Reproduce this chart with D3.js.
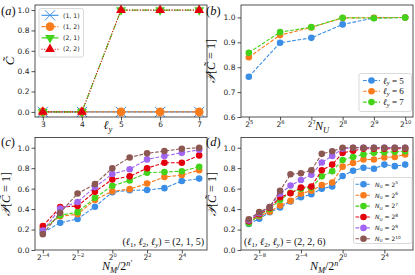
<!DOCTYPE html>
<html><head><meta charset="utf-8">
<script src="https://cdn.jsdelivr.net/npm/d3@7"></script>
<style>
html,body{margin:0;padding:0;background:#fff;}
svg{display:block;}
text{font-family:"DejaVu Sans",sans-serif;}
.math{font-family:"Liberation Serif","DejaVu Serif",serif;}
</style></head>
<body>
<svg id="fig" width="415" height="275"></svg>
<script>
// ---------- data ----------
const aX = [3, 4, 5, 6, 7];
const aSeriesNames = ["(1, 1)", "(1, 2)", "(2, 1)", "(2, 2)"];
const a11 = [0, 0, 0, 0, 0];
const a12 = [0, 0, 0, 0, 0];
const a21 = [0, 0, 1, 1, 1];
const a22 = [0, 0, 1, 1, 1];
const aYTicks = [0, 0.2, 0.4, 0.6, 0.8, 1.0];

const bExp = [5, 6, 7, 8, 9, 10];           // N_U = 2^exp
const bNames = ["5", "6", "7"];             // ℓy values
const bLy5 = [0.762, 0.898, 0.918, 0.972, 0.998, 1.0];
const bLy6 = [0.840, 0.929, 0.960, 0.998, 0.999, 1.0];
const bLy7 = [0.858, 0.941, 0.961, 0.999, 0.997, 1.0];
const bYTicks = [0.6, 0.7, 0.8, 0.9, 1.0];

const cExp = [-4, -3, -2, -1, 0, 1, 2, 3, 4, 5];   // N_M/2^n' = 2^exp
const cU5  = [0.17, 0.267, 0.303, 0.423, 0.565, 0.584, 0.586, 0.605, 0.674, 0.698];
const cU6  = [0.21, 0.33, 0.35, 0.49, 0.575, 0.595, 0.65, 0.713, 0.733, 0.78];
const cU7  = [0.20, 0.34, 0.37, 0.51, 0.628, 0.68, 0.756, 0.763, 0.77, 0.814];
const cU8  = [0.235, 0.42, 0.43, 0.57, 0.69, 0.72, 0.80, 0.853, 0.853, 0.925];
const cU9  = [0.19, 0.405, 0.47, 0.615, 0.743, 0.79, 0.886, 0.92, 0.95, 0.98];
const cU10 = [0.155, 0.365, 0.552, 0.645, 0.80, 0.905, 0.945, 0.967, 0.99, 1.0];
const cTickExp = [-4, -2, 0, 2, 4];

const dExp = [-9, -8, -7, -6, -5, -4, -3, -2, -1, 0, 1, 2, 3, 4, 5, 6];
const dU5  = [0.255, 0.305, 0.37, 0.415, 0.475, 0.515, 0.545, 0.60, 0.622, 0.724, 0.775, 0.805, 0.795, 0.835, 0.82, 0.835];
const dU6  = [0.27, 0.33, 0.375, 0.435, 0.48, 0.55, 0.58, 0.635, 0.66, 0.815, 0.85, 0.885, 0.885, 0.905, 0.91, 0.935];
const dU7  = [0.26, 0.34, 0.40, 0.49, 0.56, 0.60, 0.61, 0.72, 0.77, 0.88, 0.91, 0.935, 0.95, 0.955, 0.96, 0.965];
const dU8  = [0.28, 0.35, 0.41, 0.515, 0.555, 0.61, 0.62, 0.78, 0.835, 0.95, 0.97, 0.99, 0.99, 0.99, 0.99, 0.99];
const dU9  = [0.29, 0.36, 0.42, 0.55, 0.63, 0.685, 0.735, 0.855, 0.92, 0.99, 1.0, 1.0, 1.0, 1.0, 1.0, 1.0];
const dU10 = [0.30, 0.37, 0.42, 0.58, 0.74, 0.75, 0.78, 0.94, 0.965, 1.0, 1.0, 1.0, 1.0, 1.0, 1.0, 1.0];
const dTickExp = [-8, -4, 0, 4];
const nuExp = ["5", "6", "7", "8", "9", "10"];
const cdYTicks = [0, 0.2, 0.4, 0.6, 0.8, 1.0];

// ---------- style ----------
const COL = {blue:"#3a8ee6", orange:"#f97c1c", green:"#43d31b", red:"#e3000c", purple:"#a066f2", brown:"#8c5651"};
const six = [COL.blue, COL.orange, COL.green, COL.red, COL.purple, COL.brown];
const svg = d3.select("#fig");
const FS = 7.5;

function frame(g, x, y) {
  const [x0, x1] = x.range(), [y1, y0] = y.range();
  g.append("rect").attr("x", x0).attr("y", y0).attr("width", x1 - x0).attr("height", y1 - y0)
    .attr("fill", "none").attr("stroke", "#262626").attr("stroke-width", 0.8);
}
function yAxis(g, x, y, ticks) {
  const ax = d3.axisLeft(y).tickValues(ticks).tickFormat(d3.format(".1f")).tickSize(3.5).tickPadding(2);
  const a = g.append("g").attr("transform", `translate(${x.range()[0]},0)`).call(ax);
  a.select(".domain").remove();
  a.selectAll("line").attr("stroke", "#262626").attr("stroke-width", 0.8);
  a.selectAll("text").attr("font-size", FS).attr("fill", "#262626").attr("font-family", "DejaVu Sans");
}
function xAxis(g, x, y, ticks, fmt) {
  const ax = d3.axisBottom(x).tickValues(ticks).tickSize(3.5).tickPadding(1.5);
  if (!fmt) ax.tickFormat(d3.format("d"));
  const a = g.append("g").attr("transform", `translate(0,${y.range()[0]})`).call(ax);
  a.select(".domain").remove();
  a.selectAll("line").attr("stroke", "#262626").attr("stroke-width", 0.8);
  a.selectAll("text").attr("font-size", FS).attr("fill", "#262626").attr("font-family", "DejaVu Sans");
  if (fmt) {
    a.selectAll("text").each(function(d) {
      const t = d3.select(this).text("");
      t.append("tspan").text("2");
      t.append("tspan").attr("font-size", 5.2).attr("dy", -3.2).text(fmt(d));
    });
  }
}
function series(g, x, y, xs, ys, color, dash, marker) {
  const line = d3.line().x((d, i) => x(xs[i])).y(d => y(d));
  g.append("path").datum(ys).attr("d", line).attr("fill", "none").attr("stroke", color)
    .attr("stroke-width", 1.1).attr("stroke-dasharray", dash);
  marker(g.append("g").selectAll("path").data(ys).join("path")
    .attr("transform", (d, i) => `translate(${x(xs[i])},${y(d)})`));
}
const circ = (color, size) => sel => sel.attr("d", d3.symbol(d3.symbolCircle, size)).attr("fill", color);
const times = (color, size) => sel => sel.attr("d", d3.symbol(d3.symbolTimes, size)).attr("fill", "none").attr("stroke", color).attr("stroke-width", 1);
const triUp = (color, size) => sel => sel.attr("d", d3.symbol(d3.symbolTriangle, size)).attr("fill", color);
const triDown = (color, size) => sel => sel.attr("d", d3.symbol(d3.symbolTriangle, size)).attr("fill", color)
  .attr("transform", function() { return d3.select(this).attr("transform") + " rotate(180)"; });

function panelTag(x, y, s) {
  svg.append("text").attr("class", "math").attr("x", x).attr("y", y).attr("font-size", 12.5).attr("fill", "#111")
    .html(`(<tspan font-style="italic">${s}</tspan>)`);
}
function probLabel(cx, cy) {
  const t = svg.append("text").attr("class", "math").attr("transform", `translate(${cx},${cy}) rotate(-90)`)
    .attr("text-anchor", "middle").attr("font-size", 12).attr("fill", "#111");
  t.append("tspan").attr("font-style", "italic").text("𝒫");
  t.append("tspan").text("[");
  t.append("tspan").attr("font-style", "italic").text("C\u0303");
  t.append("tspan").text(" = 1]");
}

// ---------- panel (a) ----------
{
  const x = d3.scaleLinear().domain([2.8, 7.2]).range([35, 207]);
  const y = d3.scaleLinear().domain([-0.05, 1.05]).range([117, 5]);
  const g = svg.append("g");
  series(g, x, y, aX, a11, COL.blue, null, times(COL.blue, 70));
  series(g, x, y, aX, a12, COL.orange, "3.7,1.6", circ(COL.orange, 60));
  series(g, x, y, aX, a21, COL.green, "6.4,1.6,1,1.6", triDown(COL.green, 42));
  series(g, x, y, aX, a22, COL.red, "1,1.65", triUp(COL.red, 42));
  frame(g, x, y);
  yAxis(g, x, y, aYTicks);
  xAxis(g, x, y, aX, null);
  // legend
  const lg = g.append("g");
  lg.append("rect").attr("x", 39).attr("y", 8.5).attr("width", 44.5).attr("height", 48.5).attr("rx", 2)
    .attr("fill", "#fff").attr("fill-opacity", 0.85).attr("stroke", "#cfcfcf").attr("stroke-width", 0.8);
  const lx = d3.scaleLinear().domain([0, 1]).range([41.5, 58.5]);
  const styles = [[COL.blue, null, times(COL.blue, 70)], [COL.orange, "3.7,1.6", circ(COL.orange, 60)],
                  [COL.green, "6.4,1.6,1,1.6", triDown(COL.green, 42)], [COL.red, "1,1.65", triUp(COL.red, 42)]];
  aSeriesNames.forEach((name, i) => {
    const yy = 15.3 + i * 11.3;
    lg.append("path").attr("d", `M${lx(0)},${yy}H${lx(1)}`).attr("stroke", styles[i][0]).attr("stroke-width", 1.1)
      .attr("stroke-dasharray", styles[i][1]);
    styles[i][2](lg.append("path").attr("transform", `translate(${lx(0.5)},${yy})`));
    lg.append("text").attr("x", 63).attr("y", yy + 2.2).attr("font-size", 6.2).attr("fill", "#222").text(name);
  });
  // labels
  svg.append("text").attr("class", "math").attr("transform", "translate(14,61) rotate(-90)")
    .attr("text-anchor", "middle").attr("font-size", 13).attr("font-style", "italic").attr("fill", "#111").text("C\u0303");
  const xl = svg.append("text").attr("class", "math").attr("x", 108).attr("y", 129).attr("text-anchor", "middle")
    .attr("font-size", 12).attr("fill", "#111");
  xl.append("tspan").attr("font-style", "italic").text("ℓ");
  xl.append("tspan").attr("font-style", "italic").attr("font-size", 8.5).attr("dy", 2.5).text("y");
  panelTag(1, 15, "a");
}

// ---------- panel (b) ----------
{
  const x = d3.scaleLinear().domain([4.75, 10.25]).range([241, 413]);
  const y = d3.scaleLinear().domain([0.6, 1.05]).range([117, 5]);
  const g = svg.append("g");
  [bLy5, bLy6, bLy7].forEach((s, i) => series(g, x, y, bExp, s, six[i], "3.7,1.6", circ(six[i], 34)));
  frame(g, x, y);
  yAxis(g, x, y, bYTicks);
  xAxis(g, x, y, bExp, d => String(d));
  const lg = g.append("g");
  lg.append("rect").attr("x", 359).attr("y", 73.5).attr("width", 52.5).attr("height", 38).attr("rx", 2)
    .attr("fill", "#fff").attr("fill-opacity", 0.85).attr("stroke", "#cfcfcf").attr("stroke-width", 0.8);
  bNames.forEach((nm, i) => {
    const yy = 80.5 + i * 10.8;
    lg.append("path").attr("d", `M363,${yy}H380`).attr("stroke", six[i]).attr("stroke-width", 1.1).attr("stroke-dasharray", "3.7,1.6");
    circ(six[i], 34)(lg.append("path").attr("transform", `translate(371.5,${yy})`));
    const t = lg.append("text").attr("class", "math").attr("x", 383).attr("y", yy + 3).attr("font-size", 9).attr("fill", "#111");
    t.append("tspan").attr("font-style", "italic").text("ℓ");
    t.append("tspan").attr("font-style", "italic").attr("font-size", 6.5).attr("dy", 1.8).text("y");
    t.append("tspan").attr("dy", -1.8).text(" = " + nm);
  });
  probLabel(215, 61);
  const xl = svg.append("text").attr("class", "math").attr("x", 322).attr("y", 130).attr("text-anchor", "middle")
    .attr("font-size", 12).attr("fill", "#111");
  xl.append("tspan").attr("font-style", "italic").text("N");
  xl.append("tspan").attr("font-style", "italic").attr("font-size", 8.5).attr("dy", 2.5).text("U");
  panelTag(206, 15, "b");
}

// ---------- panel (c) ----------
function nmLabel(cx) {
  const xl = svg.append("text").attr("class", "math").attr("x", cx).attr("y", 270).attr("text-anchor", "middle")
    .attr("font-size", 12).attr("fill", "#111");
  xl.append("tspan").attr("font-style", "italic").text("N");
  xl.append("tspan").attr("font-style", "italic").attr("font-size", 8.5).attr("dy", 2.5).text("M");
  xl.append("tspan").attr("dy", -2.5).text("/2");
  xl.append("tspan").attr("font-style", "italic").attr("font-size", 8).attr("dy", -4.5).text("n′");
}
function annot(x, anchor, vals) {
  const t = svg.append("text").attr("class", "math").attr("x", x).attr("y", 245).attr("text-anchor", anchor)
    .attr("font-size", 10).attr("fill", "#111");
  t.append("tspan").text("(");
  [["1"], ["2"], ["y"]].forEach((s, i) => {
    t.append("tspan").attr("font-style", "italic").text("ℓ");
    t.append("tspan").attr("font-style", s[0] === "y" ? "italic" : "normal").attr("font-size", 7).attr("dy", 1.8).text(s[0]);
    t.append("tspan").attr("dy", -1.8).text(i < 2 ? ", " : ")");
  });
  t.append("tspan").text(" = (" + vals.join(", ") + ")");
}
{
  const x = d3.scaleLinear().domain([-4.45, 5.45]).range([35, 207]);
  const y = d3.scaleLinear().domain([0, 1.1]).range([250, 137.5]);
  const g = svg.append("g");
  [cU5, cU6, cU7, cU8, cU9, cU10].forEach((s, i) => series(g, x, y, cExp, s, six[i], "3.7,1.6", circ(six[i], 34)));
  frame(g, x, y);
  yAxis(g, x, y, cdYTicks);
  xAxis(g, x, y, cTickExp, d => d < 0 ? "\u2212" + (-d) : String(d));
  probLabel(10, 194);
  nmLabel(117);
  annot(204, "end", [2, 1, 5]);
  panelTag(1, 146, "c");
}

// ---------- panel (d) ----------
{
  const x = d3.scaleLinear().domain([-9.75, 6.75]).range([241, 413]);
  const y = d3.scaleLinear().domain([0, 1.1]).range([250, 137.5]);
  const g = svg.append("g");
  [dU5, dU6, dU7, dU8, dU9, dU10].forEach((s, i) => series(g, x, y, dExp, s, six[i], "3.7,1.6", circ(six[i], 34)));
  frame(g, x, y);
  yAxis(g, x, y, cdYTicks);
  xAxis(g, x, y, dTickExp, d => d < 0 ? "\u2212" + (-d) : String(d));
  const lg = g.append("g");
  lg.append("rect").attr("x", 353.5).attr("y", 177.5).attr("width", 58.5).attr("height", 66).attr("rx", 2)
    .attr("fill", "#fff").attr("fill-opacity", 0.85).attr("stroke", "#cfcfcf").attr("stroke-width", 0.8);
  nuExp.forEach((e, i) => {
    const yy = 184.3 + i * 10.9;
    lg.append("path").attr("d", `M355.5,${yy}H371.5`).attr("stroke", six[i]).attr("stroke-width", 1.1).attr("stroke-dasharray", "3.7,1.6");
    circ(six[i], 34)(lg.append("path").attr("transform", `translate(363.5,${yy})`));
    const t = lg.append("text").attr("x", 375).attr("y", yy + 2.3).attr("font-size", 6).attr("fill", "#222");
    t.append("tspan").attr("font-style", "italic").text("N");
    t.append("tspan").attr("font-size", 4.3).attr("dy", 1.2).text("U");
    t.append("tspan").attr("dy", -1.2).text(" = 2");
    t.append("tspan").attr("font-size", 4.3).attr("dy", -2.5).text(e);
  });
  probLabel(216, 194);
  nmLabel(325);
  annot(244, "start", [2, 2, 6]);
  panelTag(206, 146, "d");
}
</script>
</body></html>
